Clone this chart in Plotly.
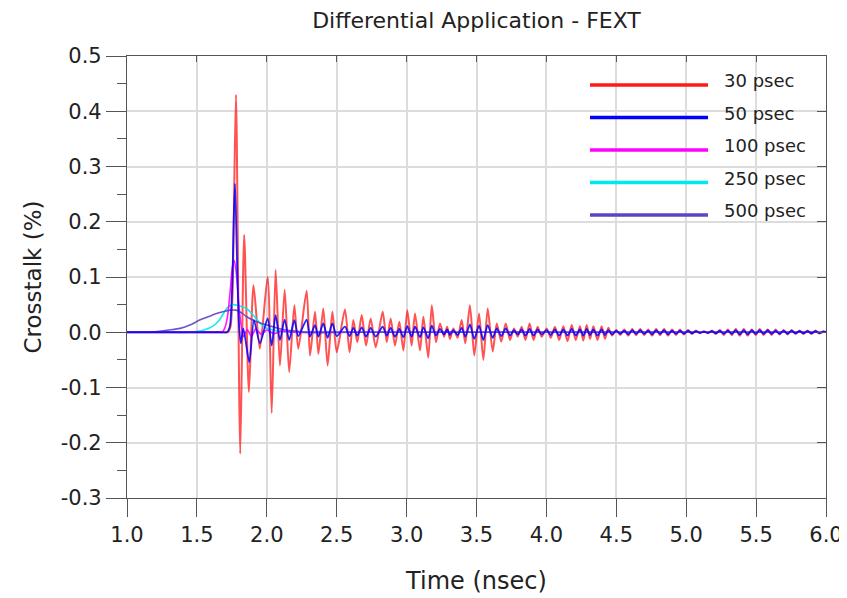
import plotly.graph_objects as go

# ---------------- data ----------------
names = ["30 psec", "50 psec", "100 psec", "250 psec", "500 psec"]
colors = ["#ff1a1a", "#0000ff", "#ff00ff", "#00e8f0", "#5a45c8"]

# onset / main spike of the two fastest edges
t_onset_30 = [1.0, 1.3, 1.6, 1.68, 1.72, 1.74, 1.755, 1.768, 1.78, 1.81, 1.838, 1.872, 1.905, 1.95, 2.006]
v_onset_30 = [0.0, 0.0, 0.0, 0.0, 0.0, 0.01, 0.07, 0.28, 0.43, -0.22, 0.176, -0.108, 0.085, -0.03, 0.100]

t_onset_50 = [1.0, 1.3, 1.6, 1.68, 1.715, 1.735, 1.752, 1.765, 1.773, 1.785, 1.80, 1.814, 1.832, 1.875, 1.908, 1.951, 2.006]
v_onset_50 = [0.0, 0.0, 0.0, 0.0, 0.0, 0.01, 0.08, 0.22, 0.269, 0.15, 0.02, -0.02, 0.007, -0.054, 0.022, -0.02, 0.025]

# ringing tail (extrema times shared by 30 and 50 psec)
t_ring = [2.035, 2.063, 2.094, 2.128, 2.160, 2.197, 2.225, 2.285, 2.309, 2.345,
          2.369, 2.404, 2.435, 2.469, 2.500, 2.559, 2.592, 2.619, 2.647, 2.679,
          2.710, 2.743, 2.779, 2.829, 2.858, 2.886, 2.917, 2.948, 2.977, 3.005,
          3.036, 3.060, 3.096, 3.120, 3.155, 3.180, 3.210, 3.239, 3.268, 3.290,
          3.310, 3.334, 3.365, 3.394, 3.420, 3.453, 3.484, 3.518, 3.549, 3.580,
          3.616, 3.645, 3.677, 3.709, 3.740, 3.768, 3.795, 3.823, 3.850, 3.880,
          3.908, 3.937, 3.966, 4.002, 4.031, 4.061, 4.091, 4.121, 4.151, 4.181,
          4.210, 4.240, 4.264, 4.288, 4.312, 4.336, 4.365, 4.395, 4.419, 4.443,
          4.470, 4.500, 4.528, 4.557, 4.585, 4.614, 4.642, 4.671, 4.700, 4.728,
          4.756, 4.785, 4.813, 4.842, 4.870, 4.899, 4.927, 4.956, 4.984, 5.013,
          5.041, 5.070, 5.098, 5.127, 5.155, 5.184, 5.212, 5.241, 5.269, 5.298,
          5.326, 5.355, 5.383, 5.412, 5.440, 5.469, 5.497, 5.526, 5.554, 5.583,
          5.611, 5.640, 5.668, 5.697, 5.725, 5.754, 5.782, 5.811, 5.839, 5.868,
          5.896, 5.925, 5.953, 5.982, 6.000]
ring_30 = [-0.146, 0.113, -0.060, 0.077, -0.072, 0.049, -0.030, 0.075, -0.042, 0.037,
           -0.039, 0.043, -0.060, 0.037, -0.036, 0.041, -0.036, 0.022, -0.018, 0.031,
           -0.024, 0.025, -0.027, 0.037, -0.018, 0.025, -0.024, 0.019, -0.033, 0.040,
           -0.024, 0.034, -0.033, 0.028, -0.046, 0.049, -0.018, 0.016, -0.008, 0.010,
           -0.012, 0.007, -0.010, 0.022, -0.020, 0.049, -0.042, 0.034, -0.050, 0.043,
           -0.035, 0.016, -0.017, 0.016, -0.014, 0.007, -0.008, 0.010, -0.014, 0.016,
           -0.014, 0.010, -0.008, 0.007, -0.010, 0.010, -0.014, 0.011, -0.016, 0.013,
           -0.014, 0.011, -0.015, 0.013, -0.012, 0.011, -0.014, 0.011, -0.012, 0.008,
           -0.006, 0.004, -0.005, 0.005, -0.006, 0.006, -0.005, 0.006, -0.005, 0.005,
           -0.006, 0.006, -0.005, 0.006, -0.006, 0.005, -0.005, 0.005, -0.004, 0.004,
           -0.003, 0.003, -0.002, 0.002, -0.002, 0.003, -0.003, 0.004, -0.005, 0.005,
           -0.005, 0.006, -0.006, 0.006, -0.006, 0.005, -0.005, 0.006, -0.005, 0.005,
           -0.005, 0.005, -0.004, 0.004, -0.004, 0.004, -0.003, 0.003, -0.003, 0.003,
           -0.003, 0.003, -0.002, 0.002, 0.0]
ring_50 = [-0.024, 0.031, -0.014, 0.023, -0.014, 0.022, -0.007, 0.023, -0.008, 0.013,
           -0.008, 0.016, -0.010, 0.016, -0.007, 0.010, -0.007, 0.008, -0.006, 0.009,
           -0.008, 0.008, -0.008, 0.010, -0.006, 0.008, -0.008, 0.006, -0.009, 0.011,
           -0.008, 0.010, -0.009, 0.009, -0.011, 0.012, -0.006, 0.006, -0.004, 0.005,
           -0.005, 0.004, -0.005, 0.008, -0.008, 0.014, -0.012, 0.012, -0.014, 0.013,
           -0.010, 0.007, -0.007, 0.007, -0.006, 0.004, -0.004, 0.005, -0.006, 0.006,
           -0.006, 0.005, -0.004, 0.004, -0.005, 0.005, -0.006, 0.005, -0.006, 0.006,
           -0.006, 0.005, -0.006, 0.006, -0.005, 0.005, -0.006, 0.005, -0.005, 0.004,
           -0.004, 0.003, -0.003, 0.003, -0.004, 0.004, -0.003, 0.004, -0.003, 0.003,
           -0.004, 0.004, -0.003, 0.004, -0.004, 0.003, -0.003, 0.003, -0.003, 0.003,
           -0.002, 0.002, -0.001, 0.001, -0.001, 0.002, -0.002, 0.003, -0.003, 0.003,
           -0.003, 0.004, -0.004, 0.004, -0.004, 0.004, -0.003, 0.004, -0.003, 0.004,
           -0.003, 0.003, -0.003, 0.003, -0.003, 0.003, -0.002, 0.002, -0.002, 0.002,
           -0.002, 0.002, -0.002, 0.001, 0.0]

t_100 = [1.0, 1.3, 1.6, 1.66, 1.68, 1.70, 1.72, 1.74, 1.755, 1.768, 1.785, 1.80, 1.815, 1.835,
         1.86, 1.89, 1.92, 1.96, 2.0, 2.05, 2.1, 2.2, 2.6, 6.0]
v_100 = [0.0, 0.0, 0.0, 0.0, 0.0, 0.008, 0.03, 0.08, 0.12, 0.13, 0.10, 0.05, 0.015, -0.008,
         0.005, -0.008, 0.006, -0.004, 0.004, -0.003, 0.002, 0.0, 0.0, 0.0]

t_250 = [1.0, 1.3, 1.45, 1.55, 1.62, 1.66, 1.69, 1.72, 1.76, 1.80, 1.85, 1.90,
         1.95, 2.0, 2.1, 2.2, 2.6, 6.0]
v_250 = [0.0, 0.0, 0.0, 0.004, 0.012, 0.022, 0.034, 0.045, 0.050, 0.048, 0.044, 0.032,
         0.017, 0.007, 0.002, 0.0, 0.0, 0.0]

t_500 = [1.0, 1.1, 1.15, 1.2, 1.3, 1.38, 1.45, 1.52, 1.6, 1.64, 1.7, 1.74, 1.78,
         1.82, 1.856, 1.92, 2.0, 2.1, 2.2, 2.3, 2.6, 6.0]
v_500 = [0.0, 0.0, 0.0, 0.001, 0.004, 0.007, 0.013, 0.022, 0.030, 0.034, 0.038, 0.040,
         0.040, 0.035, 0.028, 0.020, 0.013, 0.006, 0.002, 0.0, 0.0, 0.0]

x_ticks = [1.0, 1.5, 2.0, 2.5, 3.0, 3.5, 4.0, 4.5, 5.0, 5.5, 6.0]
x_labels = ["1.0", "1.5", "2.0", "2.5", "3.0", "3.5", "4.0", "4.5", "5.0", "5.5", "6.0"]
y_ticks = [-0.3, -0.2, -0.1, 0.0, 0.1, 0.2, 0.3, 0.4, 0.5]
y_labels = ["-0.3", "-0.2", "-0.1", "0.0", "0.1", "0.2", "0.3", "0.4", "0.5"]

series = {
    "30 psec": (t_onset_30 + t_ring, v_onset_30 + ring_30),
    "50 psec": (t_onset_50 + t_ring, v_onset_50 + ring_50),
    "100 psec": (t_100, v_100),
    "250 psec": (t_250, v_250),
    "500 psec": (t_500, v_500),
}

FONT = "DejaVu Sans"
TXT = "#222222"
AX = "#555555"

fig = go.Figure()
draw_order = ["30 psec", "250 psec", "100 psec", "500 psec", "50 psec"]
widths = {"30 psec": 2.0, "50 psec": 1.8, "100 psec": 1.6, "250 psec": 1.6, "500 psec": 1.6}
opac = {"30 psec": 0.75, "50 psec": 0.85, "100 psec": 0.9, "250 psec": 0.9, "500 psec": 0.9}
for n in draw_order:
    xs, ys = series[n]
    fig.add_trace(go.Scatter(x=xs, y=ys, mode="lines", name=n,
                             line=dict(color=colors[names.index(n)], width=widths[n],
                                       shape="spline", smoothing=0.7),
                             opacity=opac[n], showlegend=False))

# empty trace for the mirrored (inside) tick axes
fig.add_trace(go.Scatter(x=[None], y=[None], xaxis="x2", yaxis="y2",
                         showlegend=False, hoverinfo="skip"))

# custom legend (long line samples, as in the reference)
leg_x0, leg_x1, leg_tx = 0.6624, 0.8312, 0.851
leg_y0, leg_dy = 0.9344, 0.0735
shapes = []
annotations = []
for i, n in enumerate(names):
    yy = leg_y0 - i * leg_dy
    shapes.append(dict(type="line", xref="paper", yref="paper", x0=leg_x0, x1=leg_x1,
                       y0=yy, y1=yy, line=dict(color=colors[i], width=3.5)))
    annotations.append(dict(xref="paper", yref="paper", x=leg_tx, y=yy + 0.01,
                            text=n, showarrow=False, xanchor="left", yanchor="middle",
                            font=dict(family=FONT, size=18, color=TXT)))

# the page body adds an 8 px offset, so the figure is 8 px smaller on each axis
fig.update_layout(
    width=839, height=590,
    margin=dict(l=119, r=21, t=48, b=100),
    paper_bgcolor="white", plot_bgcolor="white",
    title=dict(text="Differential Application - FEXT", x=0.5, xref="paper", xanchor="center",
               y=0.98, yanchor="middle", font=dict(family=FONT, size=22, color=TXT)),
    font=dict(family=FONT, color=TXT),
    shapes=shapes, annotations=annotations,
    xaxis=dict(range=[1.0, 6.0], tickvals=x_ticks, ticktext=x_labels, automargin=False,
               ticks="outside", ticklen=18, tickcolor=AX, tickwidth=1,
               showgrid=True, gridcolor="#dcdcdc", gridwidth=2, zeroline=False,
               showline=True, linecolor=AX, linewidth=1.2, mirror=True,
               tickfont=dict(family=FONT, size=21, color=TXT),
               title=dict(text="Time (nsec)", standoff=25,
                          font=dict(family=FONT, size=24, color=TXT))),
    yaxis=dict(range=[-0.3, 0.5], tickvals=y_ticks, ticktext=y_labels, automargin=False,
               ticks="outside", ticklen=20, tickcolor=AX, tickwidth=1,
               minor=dict(dtick=0.05, tick0=0.05, ticks="outside", ticklen=9,
                          tickcolor=AX, showgrid=False),
               showgrid=True, gridcolor="#dcdcdc", gridwidth=2, zeroline=False,
               showline=True, linecolor=AX, linewidth=1.2, mirror=True,
               tickfont=dict(family=FONT, size=21, color=TXT),
               title=dict(text="Crosstalk (%)", standoff=12,
                          font=dict(family=FONT, size=23, color=TXT))),
    xaxis2=dict(range=[1.0, 6.0], overlaying="x", side="top", anchor="y",
                tickvals=x_ticks, ticks="inside", ticklen=6, tickcolor=AX,
                showticklabels=False, showgrid=False, zeroline=False, showline=False),
    yaxis2=dict(range=[-0.3, 0.5], overlaying="y", side="right", anchor="x",
                tickvals=y_ticks, ticks="inside", ticklen=9, tickcolor=AX,
                showticklabels=False, showgrid=False, zeroline=False, showline=False),
)

fig.write_html("out.html")
